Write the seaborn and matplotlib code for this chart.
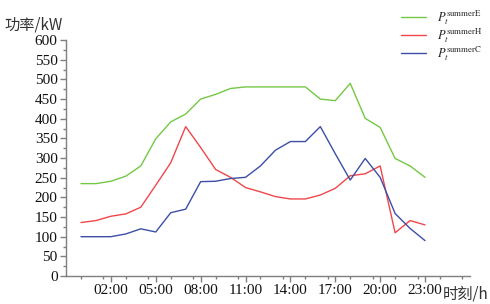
import numpy as np
import pandas as pd
import matplotlib
matplotlib.use("Agg")
import matplotlib.pyplot as plt
import seaborn as sns
from matplotlib.ticker import MultipleLocator, FixedLocator
from matplotlib.lines import Line2D

hours = list(range(24))
tick_hours = [2, 5, 8, 11, 14, 17, 20, 23]
tick_labels = ["02:00", "05:00", "08:00", "11:00", "14:00", "17:00", "20:00", "23:00"]

p_e = [235, 235, 241, 254, 280, 349, 392, 412, 450, 462, 477, 481, 481, 481, 481, 481,
       450, 446, 490, 401, 378, 299, 280, 251]
p_h = [136, 141, 152, 158, 175, 231, 288, 380, 327, 271, 251, 225, 214, 202, 196, 196,
       206, 223, 255, 260, 280, 110, 141, 130]
p_c = [100, 100, 100, 107, 120, 112, 161, 170, 240, 241, 248, 251, 280, 320, 342, 342,
       380, 311, 244, 299, 251, 159, 121, 90]

labels = [r"$P_t^{\mathrm{summerE}}$", r"$P_t^{\mathrm{summerH}}$", r"$P_t^{\mathrm{summerC}}$"]
colors = ["#74c845", "#f0474b", "#3d4ea6"]

df = pd.DataFrame({
    "hour": hours * 3,
    "value": p_e + p_h + p_c,
    "series": [labels[0]] * 24 + [labels[1]] * 24 + [labels[2]] * 24,
})

sns.set_theme(style="white")
plt.rcParams["font.family"] = ["Liberation Serif", "Noto Sans CJK SC"]
plt.rcParams["mathtext.fontset"] = "stix"

fig = plt.figure(figsize=(4.9, 3.04), dpi=100)
ax = fig.add_axes([0.1347, 0.0921, 0.959 - 0.1347, 0.868 - 0.0921])

sns.lineplot(data=df, x="hour", y="value", hue="series", palette=colors,
             hue_order=labels, ax=ax, linewidth=1.0, legend=False)

ax.set_xlim(-1, 26)
ax.set_ylim(0, 600)
ax.xaxis.set_major_locator(FixedLocator(tick_hours))
ax.set_xticklabels(tick_labels)
ax.xaxis.set_minor_locator(MultipleLocator(1.5))
ax.yaxis.set_major_locator(MultipleLocator(50))
ax.yaxis.set_minor_locator(MultipleLocator(25))
ax.set_xlabel("")
ax.set_ylabel("")

for s in ["top", "right"]:
    ax.spines[s].set_visible(False)
for s in ["left", "bottom"]:
    ax.spines[s].set_color("#7f7f7f")
    ax.spines[s].set_linewidth(1.0)
ax.tick_params(axis="both", which="major", direction="out", length=4, width=1.0,
               color="#7f7f7f", labelsize=11, labelcolor="#111111", pad=2)
ax.tick_params(axis="both", which="minor", direction="out", length=2.5, width=1.0,
               color="#7f7f7f")
ax.tick_params(axis="x", which="both", bottom=True)
ax.tick_params(axis="y", which="both", left=True)
ax.grid(False)

fig.text(4 / 490, 1 - 25 / 304, "功率/kW", fontsize=11, color="#333333",
         family=["Noto Sans CJK SC", "Liberation Serif"], va="center", ha="left")
fig.text(488 / 490, 1 - 294 / 304, "时刻/h", fontsize=11, color="#333333",
         family=["Noto Sans CJK SC", "Liberation Serif"], va="center", ha="right")

handles = [Line2D([], [], color=c, lw=1.0) for c in colors]
leg = ax.legend(handles, labels, loc="upper left", bbox_to_anchor=(401 / 490, 1 - 8 / 304),
                bbox_transform=fig.transFigure, frameon=False, fontsize=9,
                handlelength=2.0, labelspacing=-0.05, handletextpad=0.9, borderaxespad=0,
                borderpad=0)

fig.savefig("out.png", dpi=100, facecolor="white")
